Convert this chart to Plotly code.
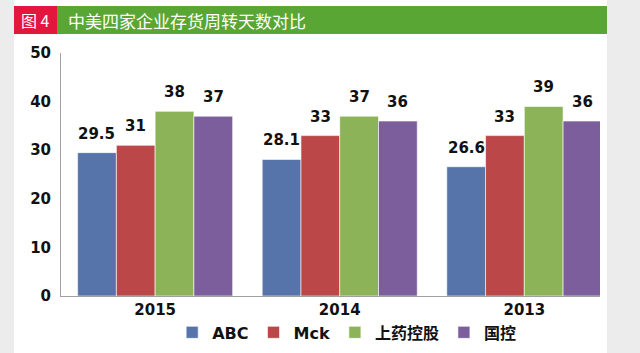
import plotly.graph_objects as go

years = ["2015", "2014", "2013"]
series_names = ["ABC", "Mck", "上药控股", "国控"]
abc = [29.5, 28.1, 26.6]
mck = [31, 33, 33]
shangyao = [38, 37, 39]
guokong = [37, 36, 36]
colors = ["#5673aa", "#bb4748", "#8db358", "#7d5e9c"]
y_ticks = [0, 10, 20, 30, 40, 50]

values = [abc, mck, shangyao, guokong]
fig = go.Figure()
for i, (name, vals, col) in enumerate(zip(series_names, values, colors)):
    fig.add_trace(go.Bar(
        x=years, y=vals, name=name,
        marker=dict(color=col, line=dict(width=0.6, color="white")),
        showlegend=True,
    ))

# value labels placed above bars (offset inside each group)
n = len(series_names)
group_w = 1 - 0.16
annots = []
for i, vals in enumerate(values):
    off = -group_w / 2 + group_w / n * (i + 0.5)
    for j, v in enumerate(vals):
        annots.append(dict(x=j + off, y=v, xref="x", yref="y", text="%g" % v, showarrow=False,
                           yanchor="bottom", yshift=8,
                           font=dict(family="DejaVu Sans", size=15, color="#111111", weight="bold")))

fig.update_layout(
    width=640, height=353,
    margin=dict(l=61, r=40, t=53, b=57, autoexpand=False),
    paper_bgcolor="white", plot_bgcolor="white",
    barmode="group", bargap=0.16, bargroupgap=0,
    font=dict(family="DejaVu Sans, Noto Sans CJK SC", color="#111111"),
    legend=dict(orientation="h", x=0.53, xanchor="center", y=-0.08, yanchor="top",
                font=dict(family="DejaVu Sans, Noto Sans CJK SC", size=16, color="#111111", weight="bold"),
                itemwidth=30, tracegroupgap=0, bgcolor="rgba(0,0,0,0)"),
    xaxis=dict(range=[-0.51, 2.41], showline=True, linecolor="#a0a0a0", linewidth=1,
               ticks="", tickfont=dict(family="DejaVu Sans", size=15, color="#111111", weight="bold"),
               showgrid=False, fixedrange=True),
    yaxis=dict(range=[0, 50], tickvals=y_ticks, showline=True, linecolor="#a0a0a0", linewidth=1,
               ticks="", showgrid=False, zeroline=False, ticklabelstandoff=6,
               tickfont=dict(family="DejaVu Sans", size=15, color="#111111", weight="bold")),
    shapes=[
        dict(type="rect", xref="paper", yref="paper", x0=-61/539, x1=(14-61)/539, y0=-57/243, y1=1+53/243,
             fillcolor="#ececec", line=dict(width=0), layer="below"),
        dict(type="rect", xref="paper", yref="paper", x0=(607-61)/539, x1=(640-61)/539, y0=-57/243, y1=1+53/243,
             fillcolor="#ececec", line=dict(width=0), layer="below"),
        dict(type="rect", xref="paper", yref="paper", x0=(14-61)/539, x1=(57-61)/539,
             y0=1+(296-34-243)/243, y1=1+(296-6-243)/243,
             fillcolor="#e3163e", line=dict(width=0)),
        dict(type="rect", xref="paper", yref="paper", x0=(57-61)/539, x1=(607-61)/539,
             y0=1+(296-34-243)/243, y1=1+(296-6-243)/243,
             fillcolor="#5aa634", line=dict(width=0)),
    ],
    annotations=annots + [
        dict(text="图 4", xref="paper", yref="paper", x=(35-61)/539, y=1+(296-20-243)/243,
             xanchor="center", yanchor="middle", showarrow=False,
             font=dict(family="Noto Sans CJK SC", size=16, color="white")),
        dict(text="中美四家企业存货周转天数对比", xref="paper", yref="paper", x=(66-61)/539, y=1+(296-20-243)/243,
             xanchor="left", yanchor="middle", showarrow=False,
             font=dict(family="Noto Sans CJK SC", size=17, color="white")),
    ],
)

fig.write_html("out.html")
